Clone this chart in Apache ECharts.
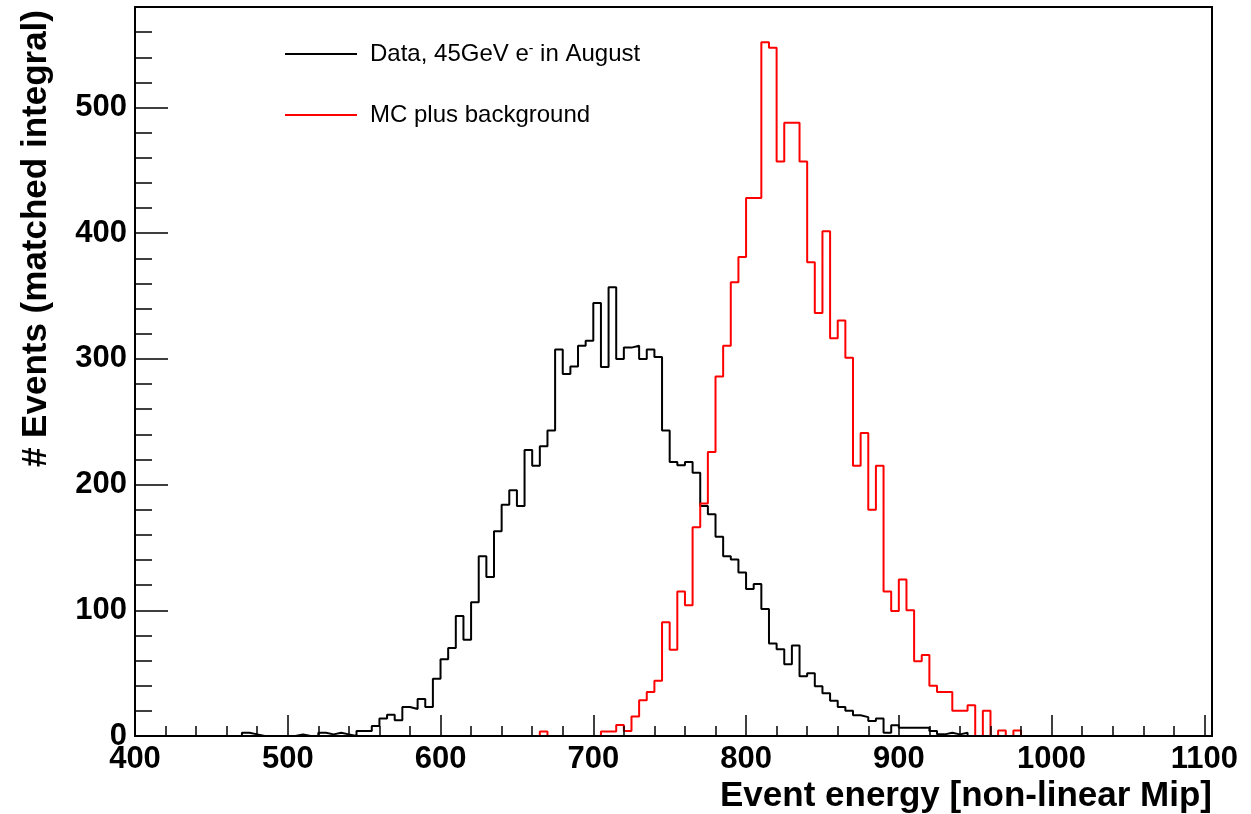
<!DOCTYPE html>
<html>
<head>
<meta charset="utf-8">
<script src="https://cdn.jsdelivr.net/npm/echarts@6/dist/echarts.min.js"></script>
<style>
html, body { margin: 0; padding: 0; background: #fff; }
#main { width: 1251px; height: 814px; }
</style>
</head>
<body>
<div id="main"></div>
<script>
// histogram binning: 141 bins of 5 from 400 to 1105
var binStart = 400;
var binWidth = 5;
var binCount = 141;

var dataName = 'Data, 45GeV e- in August';
var mcName = 'MC plus background';

// black histogram, first bin at 470
var dataFirstBin = 470;
var dataValues = [
    2.6, 1.3, 0, 0, 0, 0, 0, 1.3, 0, 0,
    2.6, 1.3, 2.6, 1.3, 0, 4, 4, 8, 14, 17,
    12.5, 23, 21.5, 29.5, 23, 45.5, 61, 70, 95.5, 76.5,
    106.5, 143, 126.5, 163, 184, 195.5, 183, 227.5, 215, 230.5,
    243, 307.5, 288, 294, 310.5, 314.5, 344.5, 293.5, 357, 300,
    309, 310.5, 300, 307.5, 301.5, 243, 218, 215.5, 218, 209.5,
    183, 176.5, 158.5, 143, 140.5, 130, 117, 121, 101, 73.5,
    69, 57, 72, 47.5, 50, 39.5, 34, 28, 23, 20,
    16.5, 15, 12, 14, 2.6, 8.5, 6.5, 6.5, 6.5, 6.5,
    4, 1.3, 2.6, 1.3, 2.6
];

// red histogram, first bin at 665
var mcFirstBin = 665;
var mcValues = [
    3.5, 0, 0, 0, 0, 0, 0, 0, 3.5, 3.5,
    8.7, 4, 15.5, 28.5, 35, 44, 90.5, 68.7, 115, 104,
    166, 185, 226, 286, 310.5, 361, 381, 428, 428, 552,
    547.5, 457, 488, 488, 457, 377, 336.5, 401.5, 316.5, 330.5,
    301, 215, 241, 180, 215, 115, 99.5, 124.5, 100, 59.5,
    64.5, 40, 35, 35, 20, 20, 24.5, 0, 20, 0,
    4.4, 0, 4.4
];

function histPoints(first, values) {
    var pts = [];
    for (var i = 0; i < binCount; i++) {
        var lo = binStart + i * binWidth;
        var k = (lo - first) / binWidth;
        var v = (k >= 0 && k < values.length) ? values[k] : 0;
        pts.push([lo, v]);
    }
    pts.push([binStart + binCount * binWidth, pts[pts.length - 1][1]]);
    return pts;
}

var font = '"Liberation Sans", Arial, Helvetica, sans-serif';
var black = '#000';

function majorLabel(v) {
    return v % 100 === 0 ? String(v) : '';
}

var option = {
    animation: false,
    backgroundColor: '#fff',
    grid: {
        left: 135, right: 39, top: 7, bottom: 78,
        show: true,
        borderColor: black,
        borderWidth: 2
    },
    legend: {
        left: 279,
        top: 37,
        orient: 'vertical',
        itemWidth: 72,
        itemHeight: 22,
        itemGap: 37,
        itemStyle: { opacity: 0 },
        data: [dataName, mcName],
        textStyle: {
            fontFamily: font,
            fontSize: 24,
            color: black,
            padding: [0, 0, 0, 8],
            rich: {
                sup: { fontFamily: font, fontSize: 14, color: black, verticalAlign: 'top' }
            }
        },
        formatter: function (name) {
            return name === dataName ? 'Data, 45GeV e{sup|-} in August' : name;
        }
    },
    xAxis: [
        {
            type: 'value',
            position: 'bottom',
            min: 400, max: 1105, interval: 100,
            z: 5,
            axisLine: { show: true, lineStyle: { color: black, width: 2 } },
            axisTick: { show: true, inside: true, length: 21, lineStyle: { color: black, width: 1.5 } },
            axisLabel: {
                color: black, fontFamily: font, fontSize: 31, fontWeight: 'bold',
                margin: 8, formatter: majorLabel
            },
            splitLine: { show: false }
        },
        {
            type: 'value',
            position: 'bottom',
            min: 400, max: 1105, interval: 20,
            z: 5,
            axisLine: { show: false },
            axisTick: { show: true, inside: true, length: 10, lineStyle: { color: black, width: 1.5 } },
            axisLabel: { show: false },
            splitLine: { show: false }
        }
    ],
    yAxis: [
        {
            type: 'value',
            position: 'left',
            min: 0, max: 580, interval: 100,
            z: 5,
            axisLine: { show: true, lineStyle: { color: black, width: 2 } },
            axisTick: { show: true, inside: true, length: 33, lineStyle: { color: black, width: 1.5 } },
            axisLabel: {
                color: black, fontFamily: font, fontSize: 31, fontWeight: 'bold',
                margin: 8, formatter: majorLabel
            },
            splitLine: { show: false }
        },
        {
            type: 'value',
            position: 'left',
            min: 0, max: 580, interval: 20,
            z: 5,
            axisLine: { show: false },
            axisTick: { show: true, inside: true, length: 17, lineStyle: { color: black, width: 1.5 } },
            axisLabel: { show: false },
            splitLine: { show: false }
        }
    ],
    graphic: [
        {
            type: 'text',
            right: 39,
            top: 779,
            style: {
                text: 'Event energy [non-linear Mip]',
                fontFamily: font, fontSize: 35, fontWeight: 'bold', fill: black
            }
        },
        {
            type: 'text',
            x: 36,
            y: 10,
            rotation: Math.PI / 2,
            style: {
                text: '# Events (matched integral)',
                fontFamily: font, fontSize: 35, fontWeight: 'bold', fill: black,
                align: 'right', verticalAlign: 'middle'
            }
        }
    ],
    series: [
        {
            name: dataName,
            type: 'line',
            step: 'end',
            symbol: 'none',
            xAxisIndex: 0,
            yAxisIndex: 0,
            lineStyle: { color: black, width: 2 },
            itemStyle: { color: black },
            data: histPoints(dataFirstBin, dataValues)
        },
        {
            name: mcName,
            type: 'line',
            step: 'end',
            symbol: 'none',
            xAxisIndex: 0,
            yAxisIndex: 0,
            lineStyle: { color: '#ff0000', width: 2 },
            itemStyle: { color: '#ff0000' },
            data: histPoints(mcFirstBin, mcValues)
        }
    ]
};

var myChart = echarts.init(document.getElementById('main'));
myChart.setOption(option);
</script>
</body>
</html>
